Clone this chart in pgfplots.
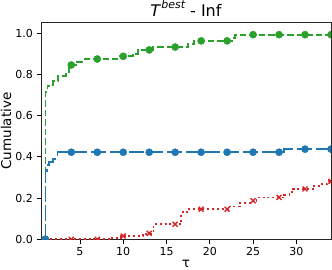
\documentclass[border=0pt]{standalone}
\usepackage{fontspec}
\setmainfont{DejaVu Sans}
\usepackage{pgfplots}
\pgfplotsset{compat=1.18}
\definecolor{tabblue}{HTML}{1F77B4}
\definecolor{tabgreen}{HTML}{2CA02C}
\definecolor{tabred}{HTML}{D62728}
\begin{document}
\begin{tikzpicture}
\path[use as bounding box] (-41bp,-30.7bp) rectangle (291bp,239.3bp);
\begin{axis}[
  at={(0,0)}, anchor=origin,
  scale only axis, width=290bp, height=216.6bp,
  xmin=0.5, xmax=34, ymin=0, ymax=1.05,
  xtick={5,10,15,20,25,30},
  ytick={0,0.2,0.4,0.6,0.8,1.0},
  yticklabel style={/pgf/number format/.cd, fixed, fixed zerofill, precision=1},
  /pgf/number format/assume math mode=true,
  tick label style={font=\fontsize{11bp}{13bp}\selectfont},
  tick align=outside, tick pos=left, major tick length=4.5bp,
  every tick/.style={black, line width=0.8bp},
  axis line style={black!85, line width=0.9bp},
  every axis title shift=0pt,
  title={\textit{T}\raisebox{0.9ex}{\fontsize{11bp}{13bp}\selectfont\itshape best} - Inf},
  title style={font=\fontsize{16bp}{19bp}\selectfont, at={(axis description cs:0.5,1)}, anchor=base, yshift=6bp},
  ylabel={Cumulative},
  ylabel style={font=\fontsize{13.5bp}{16bp}\selectfont, at={(axis description cs:-0.12,0.5)}, anchor=center},
  xlabel={τ},
  xlabel style={font=\fontsize{13.5bp}{16bp}\selectfont, at={(axis description cs:0.5,-0.132)}, anchor=base},
  clip=true, clip marker paths=true,
]
% green (step post)
\addplot[const plot, tabgreen, line width=1.8bp, dash pattern=on 6.5bp off 3bp] coordinates {
(1,0) (1.03,0.715) (1.25,0.744) (1.9,0.769) (2.45,0.793) (3.4,0.81) (3.75,0.845)
(4.7,0.861) (5.3,0.874) (9.3,0.887) (11.1,0.899) (11.7,0.917) (13.4,0.932)
(17.5,0.948) (18.2,0.962) (22.6,0.977) (22.9,0.992) (34,0.992)};
\addplot[only marks, mark=*, mark size=3.6bp, tabgreen, mark options={draw=tabgreen, fill=tabgreen}] coordinates {
(1,0) (4,0.845) (7,0.874) (10,0.887) (13,0.918) (16,0.932) (19,0.962) (22,0.962)
(25,0.992) (28,0.992) (31,0.992) (34,0.992)};
% red
\addplot[const plot, tabred, line width=1.8bp, dash pattern=on 2bp off 2.8bp] coordinates {
(1,0) (8.5,0.008) (9.7,0.016) (12.3,0.027) (13.5,0.073) (16.7,0.131) (17.4,0.146)
(22.1,0.159) (23.5,0.176) (24.6,0.187) (25.4,0.203) (28.6,0.216) (29.2,0.229)
(29.6,0.244) (31.9,0.26) (32.8,0.268) (33.6,0.281) (34,0.281)};
\addplot[only marks, mark=x, mark size=3.5bp, tabred, mark options={line width=1.4bp}] coordinates {
(1,0) (4,0) (7,0) (10,0.016) (13,0.029) (16,0.073) (19,0.146) (22,0.146)
(25,0.187) (28,0.203) (31,0.244) (34,0.281)};
% blue
\addplot[const plot, tabblue, line width=1.8bp, dash pattern=on 15bp off 4bp] coordinates {
(1,0) (1.03,0.333) (1.2,0.36) (1.45,0.375) (1.9,0.39) (2.25,0.40) (2.4,0.422)
(28.6,0.437) (34,0.437)};
\addplot[only marks, mark=*, mark size=3.6bp, tabblue, mark options={draw=tabblue, fill=tabblue}] coordinates {
(1,0) (4,0.422) (7,0.422) (10,0.422) (13,0.422) (16,0.422) (19,0.422) (22,0.422)
(25,0.422) (28,0.422) (31,0.437) (34,0.437)};
\end{axis}
\end{tikzpicture}
\end{document}
